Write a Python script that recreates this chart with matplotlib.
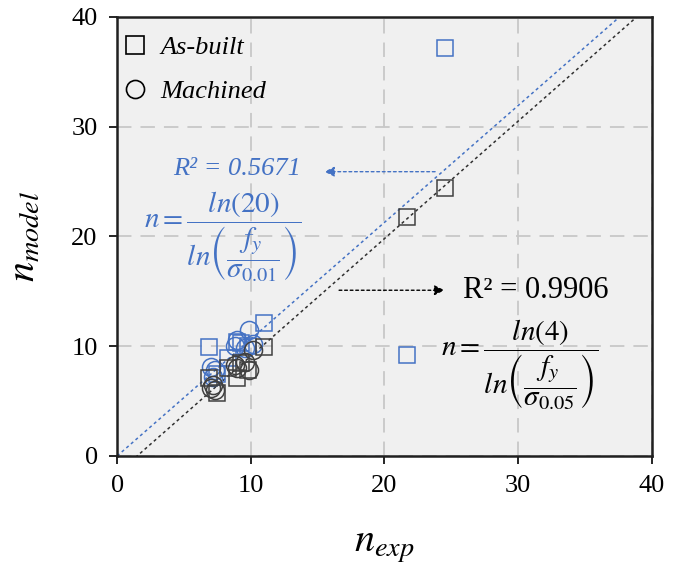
import matplotlib.pyplot as plt
import numpy as np

plt.rcParams['font.family'] = ['Liberation Serif', 'DejaVu Serif']
plt.rcParams['mathtext.fontset'] = 'stix'

# as-built specimens (squares)
ab_exp = [24.5, 21.7, 11.0, 9.0, 9.8, 6.9, 7.5, 8.3, 9.3]
ab_model_005 = [24.4, 21.8, 9.9, 7.1, 7.8, 7.1, 5.7, 8.0, 8.5]
ab_model_001 = [37.2, 9.2, 12.1, 10.4, 10.0, 9.9, 7.5, 8.9, 10.3]

# machined specimens (circles)
ma_exp = [7.0, 7.3, 8.8, 9.6, 9.9, 10.2, 7.2, 9.0]
ma_model_005 = [6.2, 6.0, 8.3, 8.6, 7.8, 9.7, 6.5, 8.0]
ma_model_001 = [8.1, 7.8, 10.0, 9.8, 11.5, 10.2, 7.2, 10.6]

# trend lines (slope, intercept)
fit_001 = (1.064, 0.0)
fit_005 = (1.07, -1.6)

blue = '#4472C4'
dark = '#404040'

fig = plt.figure(figsize=(6.81, 5.64), dpi=100)
ax = fig.add_axes([0.172, 0.1915, 0.785, 0.7785])
ax.set_facecolor('#f0f0f0')

xx = np.linspace(0, 40, 200)
ax.plot(xx, fit_001[0] * xx + fit_001[1], color=blue, lw=1.1, ls=(0, (2, 2)), zorder=2)
ax.plot(xx, fit_005[0] * xx + fit_005[1], color='#303030', lw=1.1, ls=(0, (2, 2)), zorder=2)

ms = 12
ax.plot(ab_exp, ab_model_001, 's', mfc='none', mec=blue, ms=ms, mew=1.1, zorder=3)
ax.plot(ma_exp, ma_model_001, 'o', mfc='none', mec=blue, ms=ms + 1, mew=1.1, zorder=3)
ax.plot(ab_exp, ab_model_005, 's', mfc='none', mec=dark, ms=ms, mew=1.1, zorder=3)
ax.plot(ma_exp, ma_model_005, 'o', mfc='none', mec=dark, ms=ms + 1, mew=1.1, zorder=3)

# legend handles
ax.plot([], [], 's', mfc='none', mec='black', ms=13, mew=1.2, label='As-built')
ax.plot([], [], 'o', mfc='none', mec='black', ms=13, mew=1.2, label='Machined')
handles, labels = ax.get_legend_handles_labels()
leg = ax.legend(handles, labels, loc='upper left', frameon=False,
                prop={'style': 'italic', 'size': 19}, handletextpad=0.55,
                labelspacing=0.8, borderaxespad=0.0, handlelength=0.8,
                borderpad=0.45, bbox_to_anchor=(-0.008, 0.985))

ax.set_xlim(0, 40)
ax.set_ylim(0, 40)
ax.set_xticks([0, 10, 20, 30, 40])
ax.set_yticks([0, 10, 20, 30, 40])
ax.tick_params(labelsize=19, direction='out', length=6, width=1.2, pad=8)
ax.grid(True, color='#c8c8c8', ls=(0, (8, 5)), lw=1.3)
ax.set_axisbelow(True)
for s in ax.spines.values():
    s.set_linewidth(1.8)
    s.set_color('#202020')

ax.set_xlabel(r'$n_{exp}$', fontsize=29, labelpad=22)
ax.set_ylabel(r'$n_{model}$', fontsize=29, labelpad=20)

# annotations
ax.annotate('', xy=(15.3, 25.9), xytext=(24.0, 25.9),
            arrowprops=dict(arrowstyle='-|>', color=blue, ls=(0, (2, 2)), lw=1, mutation_scale=15))
ax.text(9.0, 26.1, 'R² = 0.5671', color=blue, style='italic', fontsize=19,
        ha='center', va='center')
ax.text(7.9, 19.95, r'$n = \dfrac{ln(20)}{ln\left(\dfrac{f_y}{\sigma_{0.01}}\right)}$',
        color=blue, fontsize=21, ha='center', va='center')

ax.annotate('', xy=(24.7, 15.1), xytext=(16.4, 15.1),
            arrowprops=dict(arrowstyle='-|>', color='black', ls=(0, (2, 2)), lw=1, mutation_scale=15))
ax.text(25.9, 15.1, 'R² = 0.9906', color='black', fontsize=22, ha='left', va='center')
ax.text(30.1, 8.3, r'$n = \dfrac{ln(4)}{ln\left(\dfrac{f_y}{\sigma_{0.05}}\right)}$',
        color='black', fontsize=21, ha='center', va='center')

fig.savefig('out.png', dpi=100)
